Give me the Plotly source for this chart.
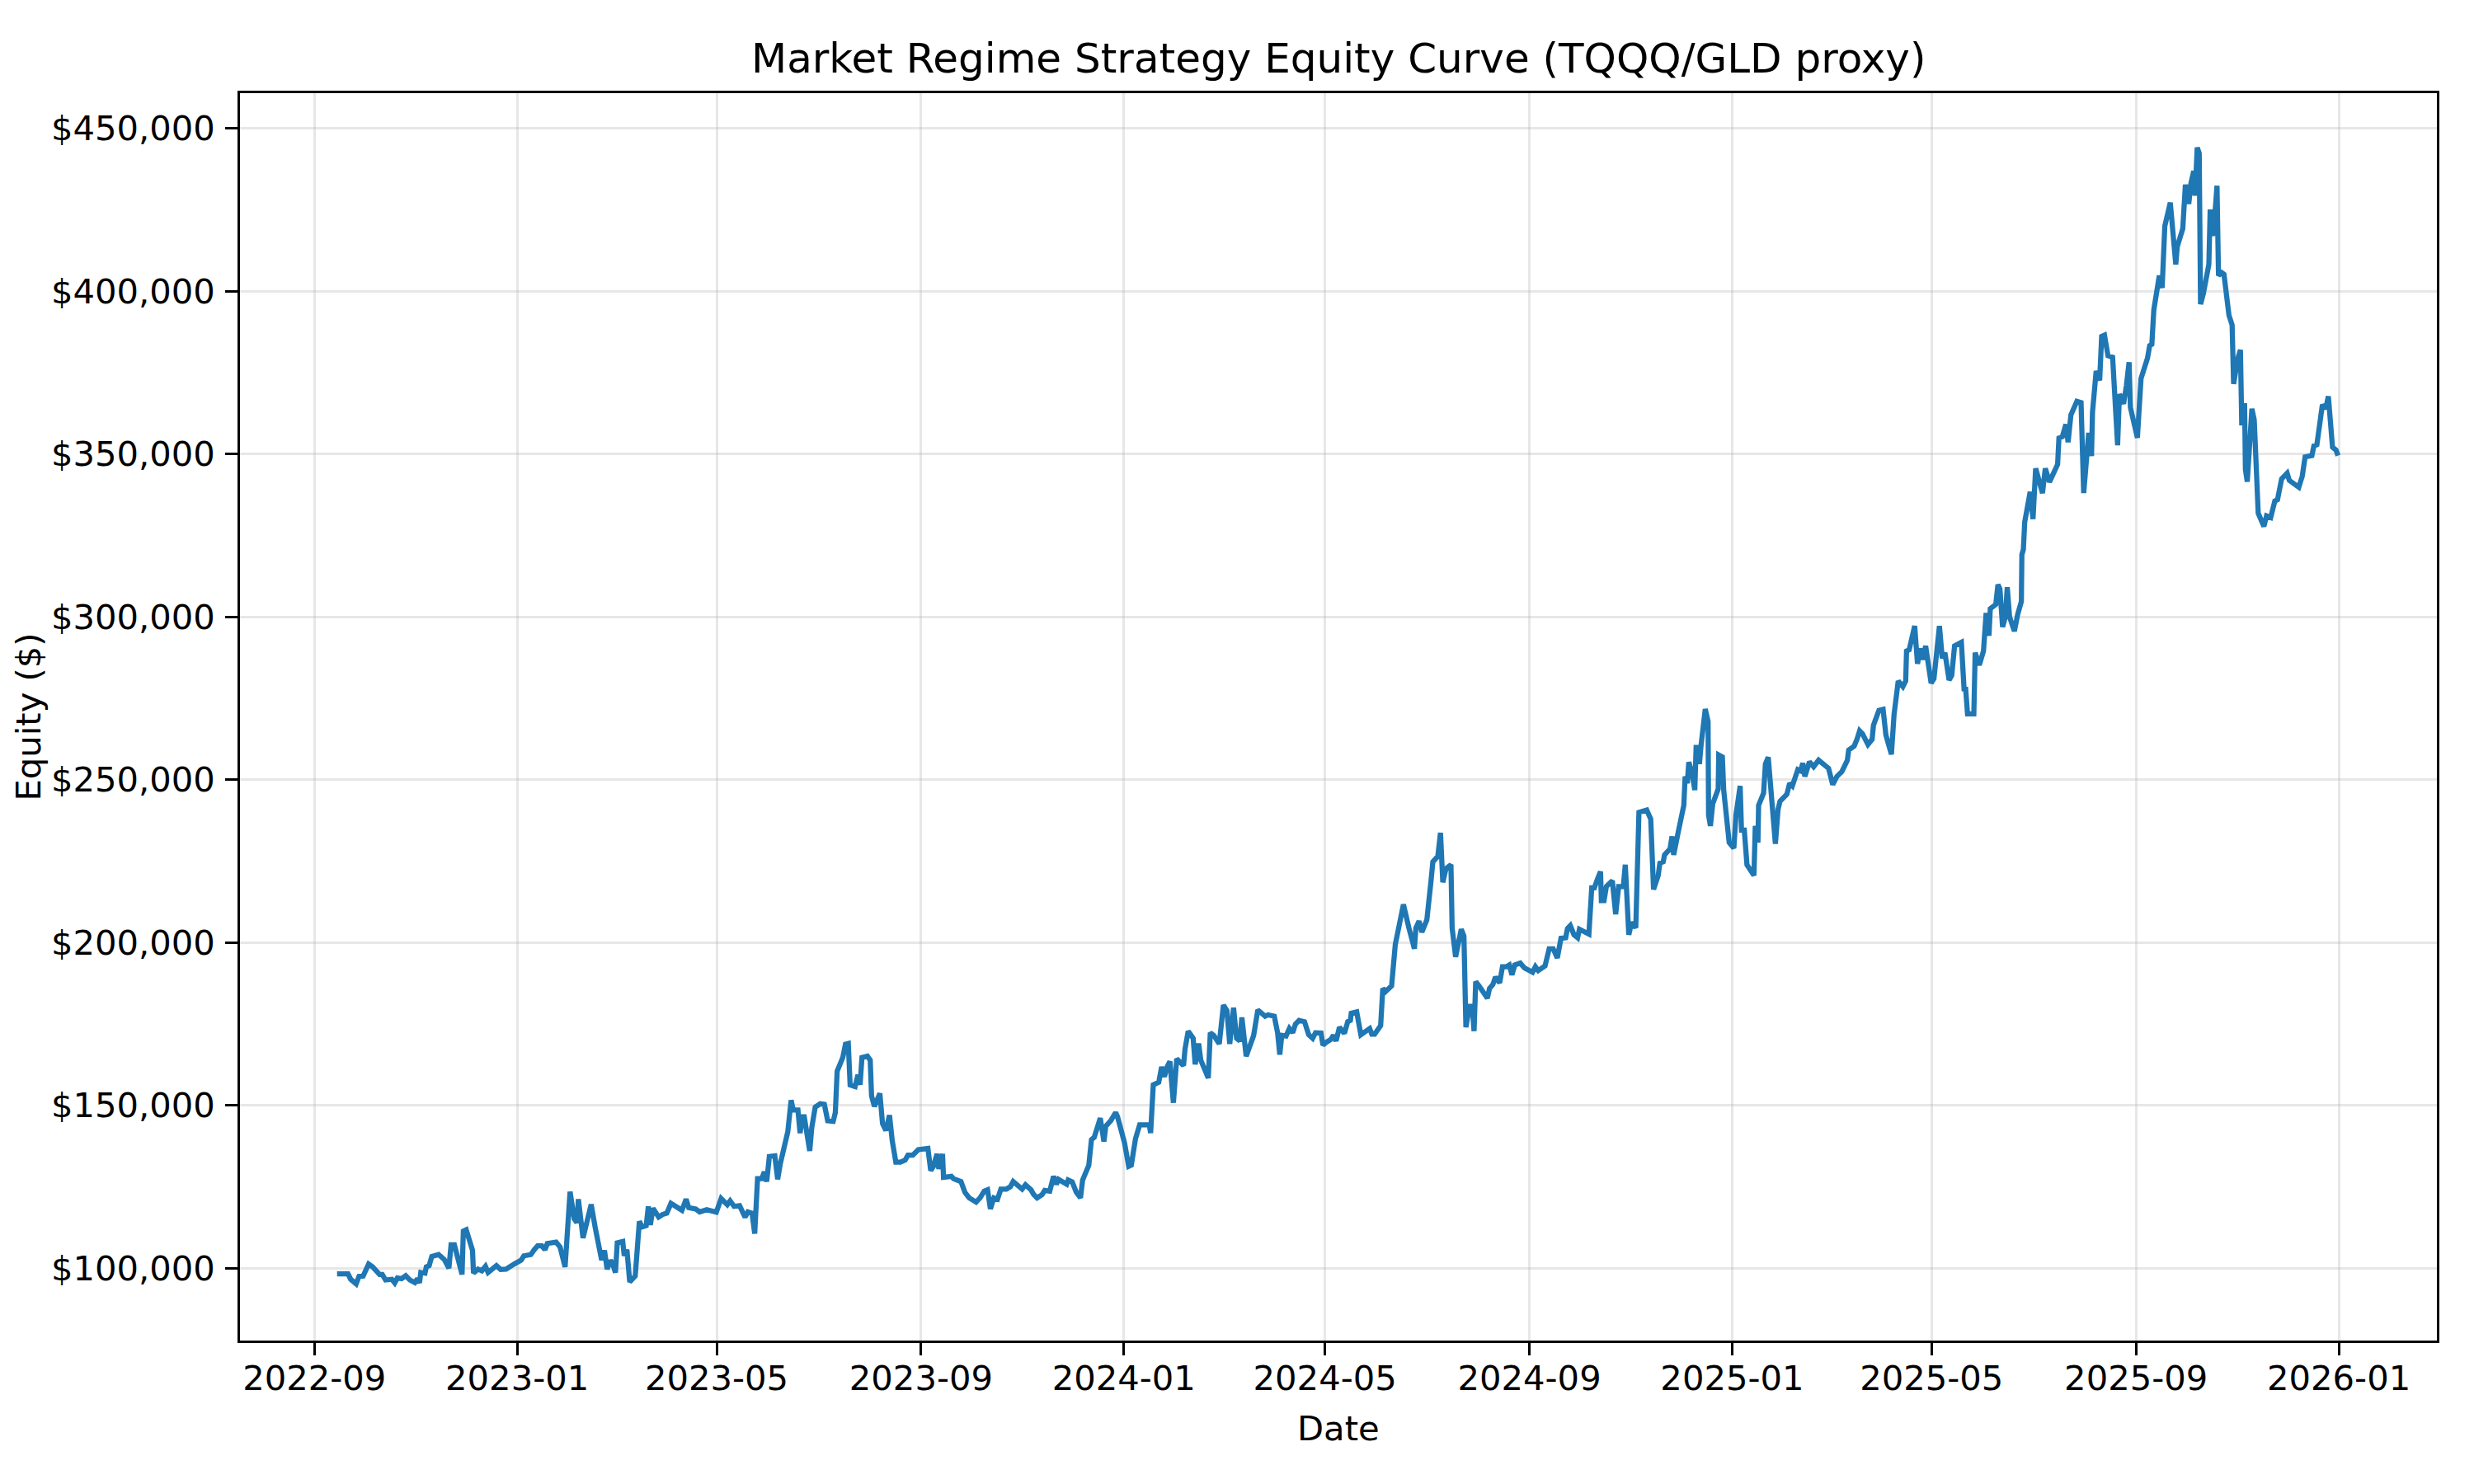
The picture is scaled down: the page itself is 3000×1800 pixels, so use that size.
import pandas as pd
import plotly.graph_objects as go

# ---- data ----
START_DATE = "2022-09-01"  # day offsets below are counted from this date

day_offsets = [
    13.6, 20.2, 21.8, 25.1, 26.8, 29.3, 32.6, 35.0, 39.2, 40.8, 42.8, 46.6, 48.3, 49.9, 52.4, 54.9,
    57.4, 60.4, 62.0, 63.2, 64.0, 66.5, 67.3, 69.0, 70.6, 74.7, 78.1, 80.9, 82.2, 84.2, 88.8, 89.6,
    91.3, 95.1, 95.7, 98.4, 100.7, 102.9, 104.5, 106.7, 109.5, 112.0, 115.3, 120.2, 124.4, 126.0,
    130.2, 132.3, 134.3, 136.8, 138.7, 140.1, 145.4, 147.8, 150.8, 153.8, 156.3, 157.9, 158.8, 161.6,
    166.5, 169.0, 172.8, 174.5, 176.1, 178.1, 179.4, 181.1, 182.2, 185.5, 186.4, 188.0, 189.7, 193.0,
    193.8, 195.5, 197.1, 199.6, 200.9, 202.1, 203.7, 207.1, 209.5, 212.0, 214.5, 221.1, 223.6, 225.2,
    229.4, 231.8, 236.0, 241.8, 244.7,
    248.4, 250.1, 252.5, 255.8, 257.5, 259.1, 260.8, 263.3, 264.9, 266.6, 269.1, 270.7, 272.1, 273.7,
    277.0, 278.7, 280.3, 282.3, 284.8, 286.8, 288.1, 290.9, 292.2, 293.5, 294.7, 298.0, 299.2, 301.3,
    304.3, 306.8, 308.8, 312.1, 313.4, 314.5, 317.9, 319.5, 321.2, 322.3, 325.3, 327.0, 328.3, 329.4,
    332.7, 334.4, 335.2, 336.9, 338.2, 340.2, 341.8, 343.8, 346.0, 347.6, 349.8, 352.6, 355.4, 357.1,
    360.0, 363.3, 369.1, 370.8, 372.4, 374.6, 375.7, 377.9, 378.5, 383.2, 384.5, 389.0, 391.4, 393.9,
    398.1, 400.5, 403.0, 405.0, 406.7, 408.8, 411.0, 413.0, 416.3, 418.7, 420.4, 423.7, 425.8, 427.8,
    431.1, 432.8, 434.8, 437.8, 439.4, 442.4, 444.7, 446.4, 447.7, 452.6, 453.5, 455.9, 458.4, 460.9,
    462.2, 465.9, 467.5, 469.2, 472.8, 475.0, 476.1, 479.1, 482.1,
    483.2, 487.4, 489.9, 491.5, 494.0, 496.5, 502.3, 503.1, 504.7, 508.0, 509.7, 511.4, 513.0, 514.7,
    516.8, 518.8, 522.9, 523.8, 525.7, 528.7, 529.9, 532.0, 533.3, 535.7, 537.8, 539.0, 541.1, 544.4,
    546.9, 549.0, 550.7, 553.0, 554.8, 556.8, 558.0, 560.6, 565.1, 567.6, 572.0, 573.7, 577.5, 579.5,
    580.8, 582.0, 584.6, 586.6, 588.6, 590.2, 592.4, 595.7, 598.2, 600.6, 602.3, 605.6, 606.8, 608.9,
    611.4, 613.1, 614.7, 616.7, 619.7, 621.7, 623.3, 623.8, 627.1, 629.6, 634.9, 636.2, 637.9, 641.5,
    642.8, 644.5, 648.1, 650.3, 655.2, 658.5, 661.8, 662.7, 664.6, 666.3, 669.3, 671.8, 672.9, 675.9,
    677.5, 678.9, 680.8, 683.8, 684.5, 686.6, 690.0, 691.6,
    692.8, 694.9, 696.6, 697.7, 698.7, 700.7, 703.2, 705.7, 707.0, 709.0, 710.6, 713.1, 714.8, 717.2,
    718.9, 720.5, 722.2, 725.5, 728.0, 732.9, 734.6, 736.3, 740.4, 742.9, 745.3, 747.8, 750.0, 752.8,
    753.9, 755.6, 757.8, 760.0, 761.1, 764.4, 766.8, 768.5, 770.1, 771.8, 773.8, 774.3, 775.9, 777.3,
    780.9, 782.9, 784.7, 787.5, 788.7, 790.8, 792.5, 795.0, 796.9, 801.6, 804.0, 805.7, 808.5, 809.5,
    811.5, 812.3, 815.6, 816.8, 817.8, 820.6, 823.9, 824.7, 826.0, 826.9, 828.9, 830.5, 831.3, 832.7,
    833.3, 834.3, 836.8, 838.5, 838.8, 839.9, 841.3, 844.6, 844.9, 847.1, 847.9, 851.2, 854.0, 855.3,
    857.8, 858.6, 860.3, 861.9, 866.1, 866.9, 868.5, 868.9, 871.9, 873.0, 874.7, 879.0, 880.6, 881.8,
    885.9, 887.6, 889.2, 892.5, 894.2, 895.5, 896.7,
    899.5, 902.0, 905.0, 908.0, 911.0, 913.5, 916.0, 919.0, 922.3,
    923.1, 926.4, 928.1, 929.7, 931.4, 934.7, 937.2, 938.0, 941.3, 943.8, 945.5, 948.8, 950.4, 952.9,
    955.7, 957.4, 957.9, 959.5, 962.8, 964.5, 966.1, 967.8, 969.4, 972.7, 974.4, 977.7, 979.4, 981.0,
    983.5, 985.1, 986.8, 990.9, 992.6, 993.4, 994.6, 998.4, 999.2, 1001.7, 1004.2, 1005.8, 1007.5,
    1008.3, 1011.6, 1012.9, 1014.1, 1015.7, 1017.4, 1018.5, 1019.9, 1022.8, 1024.8, 1027.0, 1027.3,
    1028.2, 1029.0, 1030.6, 1032.3, 1034.0, 1035.6, 1039.7, 1041.4, 1043.9, 1046.3, 1048.8, 1049.6,
    1051.6, 1053.8, 1055.1, 1056.8, 1060.4, 1062.9, 1064.5, 1067.5, 1069.2, 1069.8, 1072.0, 1074.1,
    1075.3, 1077.0, 1079.1, 1081.9, 1083.6, 1084.9, 1086.0, 1088.5, 1090.2, 1091.8, 1092.6, 1096.8,
    1099.0, 1101.0, 1102.9, 1104.2, 1105.5, 1106.7, 1108.9, 1110.0, 1111.7, 1113.3, 1116.6, 1118.3,
    1119.9, 1120.8, 1124.1, 1125.7, 1127.7, 1129.0, 1130.7, 1131.5, 1132.8, 1134.0, 1134.8, 1136.5,
    1139.8, 1140.6, 1142.0, 1143.1, 1144.7, 1145.6, 1147.6, 1148.9, 1151.9, 1153.8, 1154.7, 1157.1,
    1158.8, 1159.6, 1161.3, 1161.8, 1162.9, 1165.7, 1167.1, 1169.5, 1172.9, 1174.5, 1177.0, 1179.5,
    1181.1, 1183.6, 1186.9, 1188.2, 1193.9, 1196.0, 1197.7, 1201.8, 1203.0, 1204.8, 1206.8, 1208.1,
    1210.1, 1211.7, 1214.2, 1216.3, 1217.5,
]

equity_thousands = [
    98.3, 98.3, 96.6, 95.2, 97.5, 97.6, 101.3, 100.4, 98.1, 98.1, 96.4, 96.6, 95.5, 97.0, 96.8, 97.7,
    96.4, 95.6, 96.8, 95.5, 98.7, 98.5, 100.4, 100.8, 103.6, 104.2, 102.7, 100.0, 107.2, 107.2, 98.1, 111.4,
    111.8, 105.5, 98.5, 99.7, 99.2, 100.6, 98.7, 99.6, 100.8, 99.6, 99.7, 101.3, 102.5, 103.8,
    104.2, 105.7, 106.9, 106.9, 105.7, 107.6, 108.0, 106.5, 100.4, 123.5, 115.2, 114.0, 121.2, 109.3,
    119.6, 112.3, 102.5, 105.5, 99.7, 102.4, 101.4, 98.7, 107.8, 108.2, 103.8, 105.7, 95.8, 97.6,
    104.7, 114.4, 112.7, 113.1, 119.0, 113.3, 118.4, 115.7, 116.5, 116.9, 119.9, 117.8, 121.2, 118.6,
    118.2, 117.3, 118.0, 117.2, 121.4,
    119.5, 120.7, 119.0, 119.2, 117.3, 115.7, 117.3, 116.9, 110.6, 127.5, 127.5, 129.6, 126.6, 134.3,
    134.5, 127.3, 132.1, 136.8, 141.9, 151.6, 148.6, 148.6, 141.5, 146.5, 146.5, 136.0, 143.1, 149.5,
    150.5, 150.3, 145.3, 145.1, 147.8, 160.5, 164.7, 168.8, 169.0, 156.3, 155.8, 159.4, 156.3, 164.7,
    165.1, 163.9, 152.9, 149.7, 151.2, 153.7, 144.4, 142.3, 147.0, 139.3, 132.6, 132.6, 133.2, 134.7,
    134.7, 136.4, 136.8, 130.0, 131.3, 135.1, 130.5, 135.1, 127.9, 128.2, 127.5, 126.6, 123.3, 121.6,
    120.3, 121.6, 123.7, 124.1, 118.2, 121.6, 121.2, 124.3, 124.3, 125.0, 126.6, 125.4, 124.3, 125.6,
    124.1, 122.6, 121.6, 122.6, 123.9, 123.7, 128.2, 125.8, 127.3, 125.8, 127.1, 126.5, 123.3, 121.6,
    127.1, 131.6, 139.5, 140.2, 146.1, 138.9, 143.6, 145.3, 147.8,
    146.5, 138.5, 131.3, 131.7, 139.8, 144.0, 144.0, 141.5, 156.3, 157.1, 161.8, 158.8, 161.8, 163.5,
    150.8, 164.3, 162.2, 167.3, 172.8, 170.6, 162.6, 169.0, 163.9, 161.3, 158.4, 172.3, 171.5, 168.9,
    180.8, 179.1, 168.9, 180.0, 170.6, 169.8, 177.0, 165.1, 171.5, 179.3, 177.4, 177.8, 177.4, 172.3,
    165.6, 171.5, 171.3, 173.6, 172.3, 174.9, 176.1, 175.7, 171.7, 170.6, 172.3, 172.2, 168.5, 169.4,
    170.2, 171.5, 169.8, 174.0, 172.1, 175.7, 176.1, 178.3, 178.7, 171.7, 173.6, 171.9, 171.9, 174.5,
    185.9, 185.0, 186.7, 199.4, 211.7, 204.5, 198.1, 204.5, 206.6, 203.2, 207.0, 218.9, 224.8, 226.5,
    233.7, 218.5, 222.7, 223.9, 204.5, 195.6, 204.1, 202.0,
    174.0, 180.4, 180.4, 172.8, 188.0, 186.7, 185.0, 182.9, 185.9, 187.1, 189.4, 187.6, 192.6, 192.6,
    193.1, 190.1, 193.1, 193.7, 192.2, 190.9, 192.6, 191.4, 192.8, 198.1, 198.1, 195.3, 201.3, 201.5,
    204.3, 205.2, 202.4, 201.5, 204.1, 203.2, 202.6, 216.8, 216.8, 219.3, 221.8, 212.9, 212.9, 217.2,
    219.0, 208.7, 217.2, 217.2, 223.9, 202.4, 206.2, 204.5, 240.0, 240.7, 237.9, 216.3, 220.6, 224.4,
    224.8, 226.9, 228.8, 232.6, 226.9, 234.1, 242.1, 251.0, 248.9, 255.4, 251.9, 246.8, 259.9, 259.9,
    254.8, 260.7, 271.7, 267.9, 239.2, 235.8, 242.6, 247.2, 257.6, 257.0, 246.8, 230.7, 229.0, 239.2,
    248.1, 234.5, 234.5, 223.9, 220.6, 235.8, 230.7, 242.1, 245.9, 254.8, 256.9, 230.3, 240.9, 243.4,
    245.5, 248.9, 248.1, 253.1, 252.7, 255.1, 251.0,
    255.5, 254.0, 256.0, 254.5, 253.5, 248.5, 251.0, 252.5, 256.0,
    259.1, 260.3, 262.4, 265.0, 264.1, 260.8, 262.4, 266.7, 271.3, 271.6, 263.7, 257.8, 270.0, 280.3,
    278.6, 280.3, 289.5, 289.9, 297.2, 285.6, 290.3, 286.9, 291.1, 279.7, 281.0, 297.2, 287.3, 289.0,
    280.6, 282.0, 291.1, 292.2, 277.2, 278.5, 270.2, 270.2, 289.0, 285.2, 289.5, 301.2, 294.2,
    302.5, 303.8, 309.9, 308.6, 296.9, 300.0, 309.1, 300.0, 295.6, 300.8, 304.7, 319.1,
    320.7, 329.1, 332.9, 338.4, 330.0, 345.6, 338.0, 345.6, 341.4, 343.9, 346.8, 354.9,
    355.3, 359.1, 353.6, 362.0, 366.2, 365.8, 338.0, 356.5, 349.4, 362.9, 375.5, 372.6,
    386.1, 386.5, 380.2, 379.7, 363.7, 352.7, 368.4, 365.4, 371.1, 378.2, 364.3, 355.0,
    373.2, 376.1, 379.5, 383.3, 383.7, 394.3, 403.1, 404.8, 401.0, 420.0, 427.2, 415.4,
    408.2, 413.7, 419.2, 432.7, 426.8, 433.1, 436.9, 429.3, 444.1, 442.4, 396.0, 399.3,
    408.2, 425.1, 417.0, 421.3, 432.4, 404.8, 405.7, 405.2, 392.6, 389.6, 371.5, 379.1,
    382.0, 358.8, 365.6, 345.3, 341.5, 363.9, 360.5, 331.8, 327.8, 331.0, 330.5, 335.6,
    336.0, 342.4, 344.1, 341.9, 339.8, 343.2, 349.1, 349.5, 352.5, 352.9, 360.1, 365.1,
    363.9, 367.7, 352.1, 351.2, 349.5,
]

x_tick_dates = ["2022-09-01", "2023-01-01", "2023-05-01", "2023-09-01", "2024-01-01", "2024-05-01",
                "2024-09-01", "2025-01-01", "2025-05-01", "2025-09-01", "2026-01-01"]
y_tick_values = [100000, 150000, 200000, 250000, 300000, 350000, 400000, 450000]

TITLE = "Market Regime Strategy Equity Curve (TQQQ/GLD proxy)"
X_LABEL = "Date"
Y_LABEL = "Equity ($)"

# ---- build ----
assert len(day_offsets) == len(equity_thousands)
dates = pd.Timestamp(START_DATE) + pd.to_timedelta(day_offsets, unit="D")
equity = [v * 1000 for v in equity_thousands]

FONT = "DejaVu Sans"
OFF = 8                     # default page body margin of the html
W, H = 3000 - OFF, 1800 - OFF
# target plot-area box in page pixels
PL, PR, PT, PB = 291, 2955, 113, 1626
ML, MT = PL - OFF, PT - OFF
MR = (OFF + W) - PR
MB = (OFF + H) - PB
PW, PH = PR - PL, PB - PT

fig = go.Figure()
fig.add_trace(go.Scatter(
    x=dates, y=equity, mode="lines",
    line=dict(color="#1f77b4", width=6.25),
    showlegend=False, hoverinfo="skip",
))

axis_common = dict(
    showline=True, linecolor="black", linewidth=3.3, mirror=True,
    ticks="outside", ticklen=14.6, tickwidth=3.3, tickcolor="black",
    showgrid=True, gridcolor="rgba(176,176,176,0.3)", gridwidth=3.3,
    zeroline=False,
    tickfont=dict(family=FONT, size=41.7, color="black"),
)

fig.update_layout(
    width=W, height=H,
    margin=dict(l=ML, r=MR, t=MT, b=MB, pad=0),
    paper_bgcolor="white", plot_bgcolor="white",
    font=dict(family=FONT, color="black"),
    xaxis=dict(
        **axis_common,
        type="date",
        range=["2022-07-18 04:48", "2026-03-01 00:00"],
        tickvals=x_tick_dates,
        tickformat="%Y-%m",
        ticklabelstandoff=-8,
    ),
    yaxis=dict(
        **axis_common,
        range=[77800, 460800],
        tickvals=y_tick_values,
        tickformat="$,.0f",
        ticklabelstandoff=4,
    ),
    annotations=[
        dict(text=TITLE, xref="paper", yref="paper", x=0.5, y=1 + (PT - 71) / PH,
             xanchor="center", yanchor="middle", showarrow=False,
             font=dict(family=FONT, size=50, color="black")),
        dict(text=X_LABEL, xref="paper", yref="paper", x=0.5, y=-(1732 - PB) / PH,
             xanchor="center", yanchor="middle", showarrow=False,
             font=dict(family=FONT, size=41.7, color="black")),
        dict(text=Y_LABEL, xref="paper", yref="paper", x=(34 - PL) / PW, y=0.5,
             xanchor="center", yanchor="middle", showarrow=False, textangle=-90,
             font=dict(family=FONT, size=41.7, color="black")),
    ],
)

fig.write_html("out.html")
